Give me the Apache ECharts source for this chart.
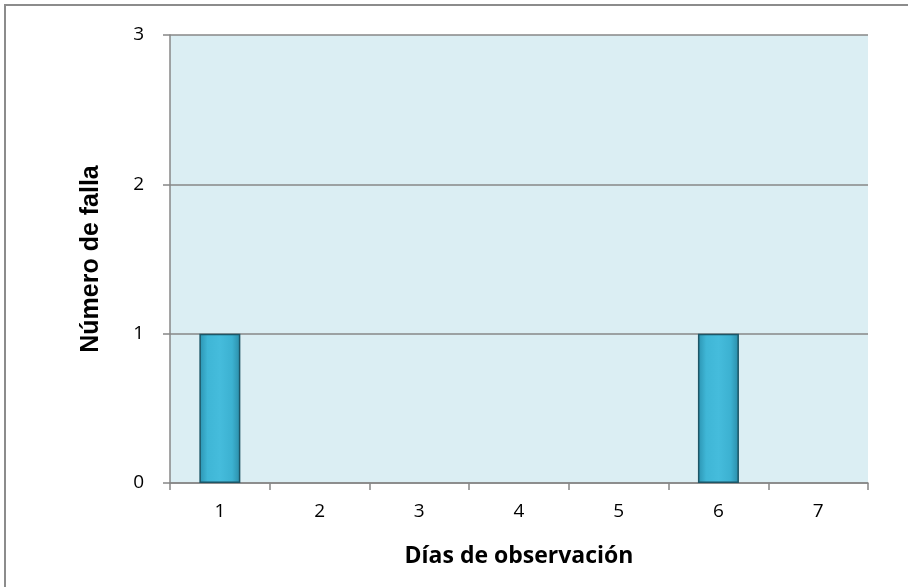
<!DOCTYPE html>
<html>
<head>
<meta charset="utf-8">
<script src="https://cdn.jsdelivr.net/npm/echarts@6/dist/echarts.min.js"></script>
<style>
html,body{margin:0;padding:0;background:#fff;}
#main{width:908px;height:587px;}
</style>
</head>
<body>
<div id="main"></div>
<script>
var dias = ['1', '2', '3', '4', '5', '6', '7'];
var fallas = [1, 0, 0, 0, 0, 1, 0];
var yTicks = [0, 1, 2, 3];

var chartDom = document.getElementById('main');
var myChart = echarts.init(chartDom);
var option;

// las barras de valor 0 no llevan borde
var barData = fallas.map(function (v) {
  return { value: v, itemStyle: { borderWidth: v ? 1.5 : 0 } };
});

option = {
  animation: false,
  textStyle: { fontFamily: 'Open Sans' },
  graphic: [
    {
      type: 'rect',
      shape: { x: 5, y: 5, width: 1000, height: 1000 },
      style: { fill: 'none', stroke: '#8c8c8c', lineWidth: 2 },
      silent: true
    }
  ],
  grid: {
    left: 170,
    right: 40,
    top: 35,
    bottom: 104,
    show: true,
    backgroundColor: '#dbeef3',
    borderWidth: 0
  },
  xAxis: {
    type: 'category',
    data: dias,
    name: 'Días de observación',
    nameLocation: 'middle',
    nameGap: 62,
    nameTextStyle: { fontSize: 23, fontWeight: 'bold', color: '#000', fontFamily: 'Open Sans' },
    axisLine: { lineStyle: { color: '#878787', width: 1.5 } },
    axisTick: { show: true, length: 7, lineStyle: { color: '#878787', width: 1.5 } },
    axisLabel: { fontSize: 19, color: '#000', margin: 19 }
  },
  yAxis: {
    type: 'value',
    min: 0,
    max: yTicks[yTicks.length - 1],
    interval: 1,
    name: 'Número de falla',
    nameLocation: 'middle',
    nameGap: 66,
    nameTextStyle: { fontSize: 25, fontWeight: 'bold', color: '#000', fontFamily: '"Liberation Sans", Arial, sans-serif' },
    axisLine: { show: true, lineStyle: { color: '#878787', width: 1.5 } },
    axisTick: { show: true, length: 7, lineStyle: { color: '#878787', width: 1.5 } },
    axisLabel: { fontSize: 19, color: '#000', margin: 26 },
    splitLine: { show: true, lineStyle: { color: '#878787', width: 1.5 } }
  },
  series: [
    {
      type: 'bar',
      data: barData,
      barWidth: 41,
      itemStyle: {
        color: new echarts.graphic.LinearGradient(0, 0, 1, 0, [
          { offset: 0, color: '#2b93b1' },
          { offset: 0.2, color: '#3fb6d6' },
          { offset: 0.5, color: '#45bcdc' },
          { offset: 0.8, color: '#3cb1d1' },
          { offset: 1, color: '#2a8ca8' }
        ]),
        borderColor: '#1d5566',
        borderWidth: 1.5
      }
    }
  ]
};
myChart.setOption(option);
</script>
</body>
</html>
